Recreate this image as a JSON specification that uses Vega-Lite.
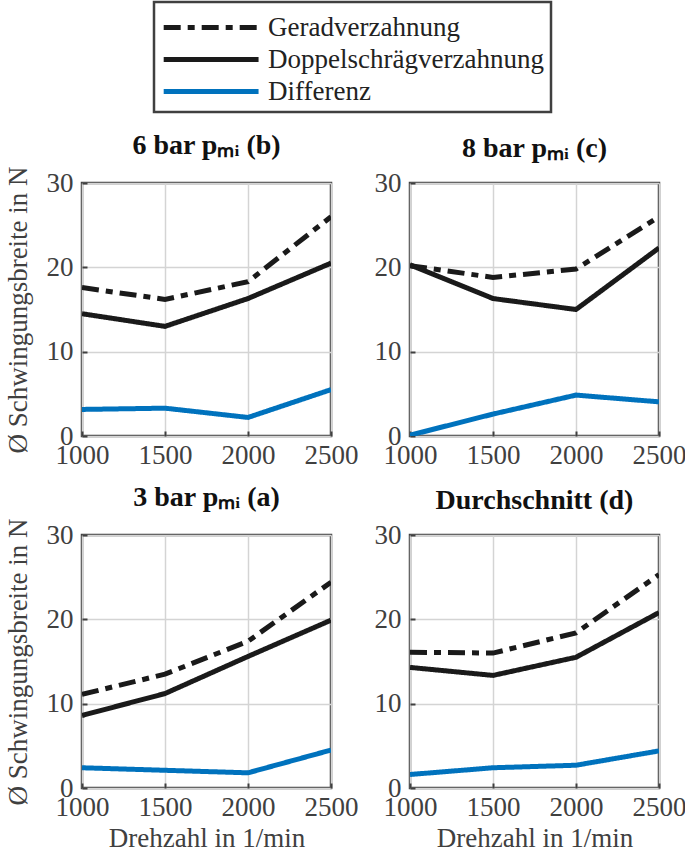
{
  "$schema": "https://vega.github.io/schema/vega-lite/v6.json",
  "background": "white",
  "padding": {"left": 2, "top": 0, "right": 5, "bottom": 5},
  "datasets": {
    "d": [
      {"panel": "b", "n": 1000, "serie": "Geradverzahnung", "wert": 17.6},
      {"panel": "b", "n": 1500, "serie": "Geradverzahnung", "wert": 16.2},
      {"panel": "b", "n": 2000, "serie": "Geradverzahnung", "wert": 18.3},
      {"panel": "b", "n": 2500, "serie": "Geradverzahnung", "wert": 26.0},
      {"panel": "b", "n": 1000, "serie": "Doppelschrägverzahnung", "wert": 14.5},
      {"panel": "b", "n": 1500, "serie": "Doppelschrägverzahnung", "wert": 13.0},
      {"panel": "b", "n": 2000, "serie": "Doppelschrägverzahnung", "wert": 16.3},
      {"panel": "b", "n": 2500, "serie": "Doppelschrägverzahnung", "wert": 20.5},
      {"panel": "b", "n": 1000, "serie": "Differenz", "wert": 3.15},
      {"panel": "b", "n": 1500, "serie": "Differenz", "wert": 3.3},
      {"panel": "b", "n": 2000, "serie": "Differenz", "wert": 2.2},
      {"panel": "b", "n": 2500, "serie": "Differenz", "wert": 5.5},
      {"panel": "c", "n": 1000, "serie": "Geradverzahnung", "wert": 20.2},
      {"panel": "c", "n": 1500, "serie": "Geradverzahnung", "wert": 18.8},
      {"panel": "c", "n": 2000, "serie": "Geradverzahnung", "wert": 19.8},
      {"panel": "c", "n": 2500, "serie": "Geradverzahnung", "wert": 26.0},
      {"panel": "c", "n": 1000, "serie": "Doppelschrägverzahnung", "wert": 20.3},
      {"panel": "c", "n": 1500, "serie": "Doppelschrägverzahnung", "wert": 16.3},
      {"panel": "c", "n": 2000, "serie": "Doppelschrägverzahnung", "wert": 15.0},
      {"panel": "c", "n": 2500, "serie": "Doppelschrägverzahnung", "wert": 22.3},
      {"panel": "c", "n": 1000, "serie": "Differenz", "wert": 0.1},
      {"panel": "c", "n": 1500, "serie": "Differenz", "wert": 2.6},
      {"panel": "c", "n": 2000, "serie": "Differenz", "wert": 4.85},
      {"panel": "c", "n": 2500, "serie": "Differenz", "wert": 4.05},
      {"panel": "a", "n": 1000, "serie": "Geradverzahnung", "wert": 11.1},
      {"panel": "a", "n": 1500, "serie": "Geradverzahnung", "wert": 13.5},
      {"panel": "a", "n": 2000, "serie": "Geradverzahnung", "wert": 17.4},
      {"panel": "a", "n": 2500, "serie": "Geradverzahnung", "wert": 24.4},
      {"panel": "a", "n": 1000, "serie": "Doppelschrägverzahnung", "wert": 8.6},
      {"panel": "a", "n": 1500, "serie": "Doppelschrägverzahnung", "wert": 11.2},
      {"panel": "a", "n": 2000, "serie": "Doppelschrägverzahnung", "wert": 15.6},
      {"panel": "a", "n": 2500, "serie": "Doppelschrägverzahnung", "wert": 19.9},
      {"panel": "a", "n": 1000, "serie": "Differenz", "wert": 2.4},
      {"panel": "a", "n": 1500, "serie": "Differenz", "wert": 2.1},
      {"panel": "a", "n": 2000, "serie": "Differenz", "wert": 1.8},
      {"panel": "a", "n": 2500, "serie": "Differenz", "wert": 4.5},
      {"panel": "d", "n": 1000, "serie": "Geradverzahnung", "wert": 16.1},
      {"panel": "d", "n": 1500, "serie": "Geradverzahnung", "wert": 16.0},
      {"panel": "d", "n": 2000, "serie": "Geradverzahnung", "wert": 18.4},
      {"panel": "d", "n": 2500, "serie": "Geradverzahnung", "wert": 25.3},
      {"panel": "d", "n": 1000, "serie": "Doppelschrägverzahnung", "wert": 14.3},
      {"panel": "d", "n": 1500, "serie": "Doppelschrägverzahnung", "wert": 13.35},
      {"panel": "d", "n": 2000, "serie": "Doppelschrägverzahnung", "wert": 15.5},
      {"panel": "d", "n": 2500, "serie": "Doppelschrägverzahnung", "wert": 20.8},
      {"panel": "d", "n": 1000, "serie": "Differenz", "wert": 1.6},
      {"panel": "d", "n": 1500, "serie": "Differenz", "wert": 2.4},
      {"panel": "d", "n": 2000, "serie": "Differenz", "wert": 2.7},
      {"panel": "d", "n": 2500, "serie": "Differenz", "wert": 4.4}
    ]
  },
  "columns": 2,
  "spacing": {"row": 99, "column": 79},
  "bounds": "flush",
  "resolve": {"scale": {"color": "shared", "strokeDash": "shared"}, "legend": {"color": "shared", "strokeDash": "shared"}},
  "concat": [
    {
      "title": "6 bar pₘᵢ (b)",
      "width": 249, "height": 253,
      "data": {"name": "d"},
      "transform": [{"filter": "datum.panel === 'b'"}],
      "mark": {"type": "line", "strokeWidth": 5, "clip": true},
      "encoding": {
        "x": {"field": "n", "type": "quantitative", "scale": {"domain": [1000, 2500]}, "axis": {"values": [1000, 1500, 2000, 2500], "format": "d", "title": null}},
        "y": {"field": "wert", "type": "quantitative", "scale": {"domain": [0, 30]}, "axis": {"values": [0, 10, 20, 30], "title": "Ø Schwingungsbreite in N"}},
        "color": {"field": "serie", "type": "nominal", "scale": {"domain": ["Geradverzahnung", "Doppelschrägverzahnung", "Differenz"], "range": ["#1a1a1a", "#1a1a1a", "#0072BD"]}, "legend": {"title": null, "orient": "none", "legendX": 72, "legendY": -181, "direction": "vertical"}},
        "strokeDash": {"field": "serie", "type": "nominal", "scale": {"domain": ["Geradverzahnung", "Doppelschrägverzahnung", "Differenz"], "range": [[17, 7, 7, 7], [1, 0], [1, 0]]}, "legend": {"title": null, "orient": "none", "legendX": 72, "legendY": -181, "direction": "vertical"}}
      }
    },
    {
      "title": "8 bar pₘᵢ (c)",
      "width": 249, "height": 253,
      "data": {"name": "d"},
      "transform": [{"filter": "datum.panel === 'c'"}],
      "mark": {"type": "line", "strokeWidth": 5, "clip": true},
      "encoding": {
        "x": {"field": "n", "type": "quantitative", "scale": {"domain": [1000, 2500]}, "axis": {"values": [1000, 1500, 2000, 2500], "format": "d", "title": null}},
        "y": {"field": "wert", "type": "quantitative", "scale": {"domain": [0, 30]}, "axis": {"values": [0, 10, 20, 30], "title": null}},
        "color": {"field": "serie", "type": "nominal"},
        "strokeDash": {"field": "serie", "type": "nominal"}
      }
    },
    {
      "title": "3 bar pₘᵢ (a)",
      "width": 249, "height": 253,
      "data": {"name": "d"},
      "transform": [{"filter": "datum.panel === 'a'"}],
      "mark": {"type": "line", "strokeWidth": 5, "clip": true},
      "encoding": {
        "x": {"field": "n", "type": "quantitative", "scale": {"domain": [1000, 2500]}, "axis": {"values": [1000, 1500, 2000, 2500], "format": "d", "title": "Drehzahl in 1/min"}},
        "y": {"field": "wert", "type": "quantitative", "scale": {"domain": [0, 30]}, "axis": {"values": [0, 10, 20, 30], "title": "Ø Schwingungsbreite in N"}},
        "color": {"field": "serie", "type": "nominal"},
        "strokeDash": {"field": "serie", "type": "nominal"}
      }
    },
    {
      "title": "Durchschnitt (d)",
      "width": 249, "height": 253,
      "data": {"name": "d"},
      "transform": [{"filter": "datum.panel === 'd'"}],
      "mark": {"type": "line", "strokeWidth": 5, "clip": true},
      "encoding": {
        "x": {"field": "n", "type": "quantitative", "scale": {"domain": [1000, 2500]}, "axis": {"values": [1000, 1500, 2000, 2500], "format": "d", "title": "Drehzahl in 1/min"}},
        "y": {"field": "wert", "type": "quantitative", "scale": {"domain": [0, 30]}, "axis": {"values": [0, 10, 20, 30], "title": null}},
        "color": {"field": "serie", "type": "nominal"},
        "strokeDash": {"field": "serie", "type": "nominal"}
      }
    }
  ],
  "config": {
    "font": "Liberation Serif",
    "view": {"stroke": "#404040", "strokeWidth": 2.5},
    "axis": {
      "labelFont": "Liberation Serif", "labelFontSize": 27, "labelColor": "#404040",
      "titleFont": "Liberation Serif", "titleFontSize": 27, "titleFontWeight": "normal", "titleColor": "#404040",
      "domain": false, "ticks": true, "tickSize": -5, "tickColor": "#404040", "tickWidth": 2,
      "gridColor": "#d4d4d4", "gridWidth": 1.5, "labelOverlap": false, "labelFlush": false
    },
    "axisX": {"labelPadding": 11, "titlePadding": 5},
    "axisY": {"labelPadding": 14, "titlePadding": 14},
    "title": {"font": "Liberation Serif", "fontSize": 28, "fontWeight": "bold", "color": "#111111", "offset": 6},
    "legend": {
      "labelFont": "Liberation Serif", "labelFontSize": 27, "labelColor": "#222222",
      "symbolType": "M-1,0H5", "symbolSize": 1000, "symbolStrokeWidth": 5, "labelOffset": 70, "rowPadding": -5,
      "strokeColor": "#404040", "strokeWidth": 2.5, "padding": 7, "fillColor": "white", "labelLimit": 400
    }
  }
}
